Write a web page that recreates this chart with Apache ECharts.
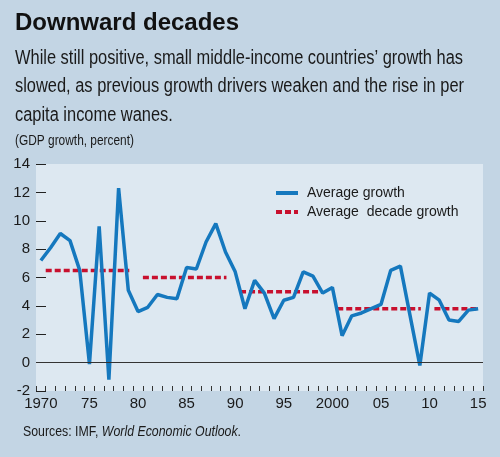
<!DOCTYPE html>
<html>
<head>
<meta charset="utf-8">
<script src="https://cdn.jsdelivr.net/npm/echarts@6.0.0/dist/echarts.min.js"></script>
<style>
  html, body { margin: 0; padding: 0; background: #c3d5e4; }
  #chart { width: 500px; height: 457px; }
</style>
</head>
<body>
<div id="chart"></div>
<script>
// years on the x axis
const years = [];
for (let y = 1970; y <= 2015; y++) years.push(String(y));
const yearLabels = ['1970', '75', '80', '85', '90', '95', '2000', '05', '10', '15'];

// average GDP growth, percent
const growth = [
  7.2, 8.1, 9.1, 8.6, 6.5, -0.1, 9.6, -1.2, 12.3, 5.1,
  3.6, 3.9, 4.8, 4.6, 4.5, 6.7, 6.6, 8.5, 9.8, 7.8,
  6.4, 3.8, 5.8, 4.9, 3.1, 4.4, 4.6, 6.4, 6.1, 4.9,
  5.3, 1.9, 3.3, 3.5, 3.8, 4.1, 6.5, 6.8, 3.3, -0.2,
  4.9, 4.4, 3.0, 2.9, 3.7, 3.8,
];

// decade averages and where their dotted segments start / end
const decadeStart = [1970.5, 1980.5, 1990.5, 2000.5, 2010.5];
const decadeEnd = [1979.1, 1989.1, 1999.0, 2009.1, 2015.0];
const decadeAvg = [6.5, 6.0, 5.0, 3.8, 3.8];

const subtitle = 'While still positive, small middle-income countries\u2019 growth has\n'
  + 'slowed, as previous growth drivers weaken and the rise in per\n'
  + 'capita income wanes.';

const sans = '"Liberation Sans", Arial, sans-serif';

// the original uses a condensed face, so squeeze the free texts to their width
const ctx = document.createElement('canvas').getContext('2d');
function textWidth(text, font) {
  ctx.font = font;
  return ctx.measureText(text).width;
}
const subFont = '20px ' + sans;
const subScale = 448 / textWidth('While still positive, small middle-income countries\u2019 growth has', subFont);
const unitFont = '14px ' + sans;
const unitScale = 119 / textWidth('(GDP growth, percent)', unitFont);
const srcFont = '14px ' + sans;
const srcScale = 218 / (textWidth('Sources: IMF, ', srcFont)
  + textWidth('World Economic Outlook', 'italic ' + srcFont) + textWidth('.', srcFont));

const decadeData = [];
decadeAvg.forEach((v, i) => {
  decadeData.push([decadeStart[i], v], [decadeEnd[i], v]);
  if (i < decadeAvg.length - 1) decadeData.push([decadeEnd[i] + 0.2, '-']);
});

const myChart = echarts.init(document.getElementById('chart'));
myChart.setOption({
  backgroundColor: '#c3d5e4',
  animation: false,
  textStyle: { fontFamily: sans },
  graphic: [
    {
      type: 'text', x: 15, y: 11,
      style: { text: 'Downward decades', font: 'bold 24px ' + sans, fill: '#111', textVerticalAlign: 'top' },
    },
    {
      type: 'text', x: 15, y: 44, scaleX: subScale,
      style: { text: subtitle, font: subFont, fill: '#1a1a1a', lineHeight: 28.5, textVerticalAlign: 'top' },
    },
    {
      type: 'text', x: 15, y: 134, scaleX: unitScale,
      style: { text: '(GDP growth, percent)', font: unitFont, fill: '#1a1a1a', textVerticalAlign: 'top' },
    },
    {
      type: 'text', x: 23, y: 425, scaleX: srcScale,
      style: {
        text: '{n|Sources: IMF, }{i|World Economic Outlook}{n|.}',
        textVerticalAlign: 'top',
        rich: {
          n: { font: srcFont, fill: '#1a1a1a' },
          i: { font: 'italic ' + srcFont, fill: '#1a1a1a' },
        },
      },
    },
  ],
  legend: {
    orient: 'vertical',
    left: 269,
    top: 181,
    itemWidth: 22,
    itemHeight: 14,
    itemGap: 5,
    itemStyle: { opacity: 0 },
    lineStyle: { width: 4 },
    textStyle: { fontFamily: sans, fontSize: 14, color: '#1a1a1a', padding: [0, 0, 0, 4] },
    data: ['Average growth', 'Average  decade growth'],
  },
  grid: {
    show: true,
    left: 36,
    right: 17,
    top: 164,
    bottom: 66,
    backgroundColor: '#dde8f1',
    borderWidth: 0,
  },
  xAxis: [
    {
      type: 'category',
      data: years,
      boundaryGap: true,
      axisLine: { show: false, onZero: false },
      axisTick: { show: true, inside: true, length: 5, interval: 0, lineStyle: { color: '#333' } },
      axisLabel: {
        interval: 4,
        margin: 5,
        fontSize: 15,
        color: '#1a1a1a',
        formatter: (v, i) => yearLabels[i / 5],
      },
    },
    {
      type: 'value',
      min: 1969.5,
      max: 2015.5,
      show: false,
    },
  ],
  yAxis: {
    type: 'value',
    min: -2,
    max: 14,
    interval: 2,
    axisLine: { show: false },
    axisTick: { show: true, inside: true, length: 10, lineStyle: { color: '#222' } },
    splitLine: { show: false },
    axisLabel: { fontSize: 15, color: '#1a1a1a', margin: 6 },
  },
  series: [
    {
      name: 'Average growth',
      type: 'line',
      data: growth,
      symbol: 'none',
      lineStyle: { color: '#1578be', width: 3.5 },
      itemStyle: { color: '#1578be' },
      markLine: {
        silent: true,
        symbol: 'none',
        label: { show: false },
        lineStyle: { color: '#333', width: 1.2, type: 'solid' },
        data: [{ yAxis: 0 }],
      },
      z: 3,
    },
    {
      name: 'Average  decade growth',
      type: 'line',
      xAxisIndex: 1,
      data: decadeData,
      symbol: 'none',
      connectNulls: false,
      lineStyle: { color: '#c8102e', width: 3.5, type: [6, 3] },
      itemStyle: { color: '#c8102e' },
      z: 2,
    },
  ],
});
</script>
</body>
</html>
